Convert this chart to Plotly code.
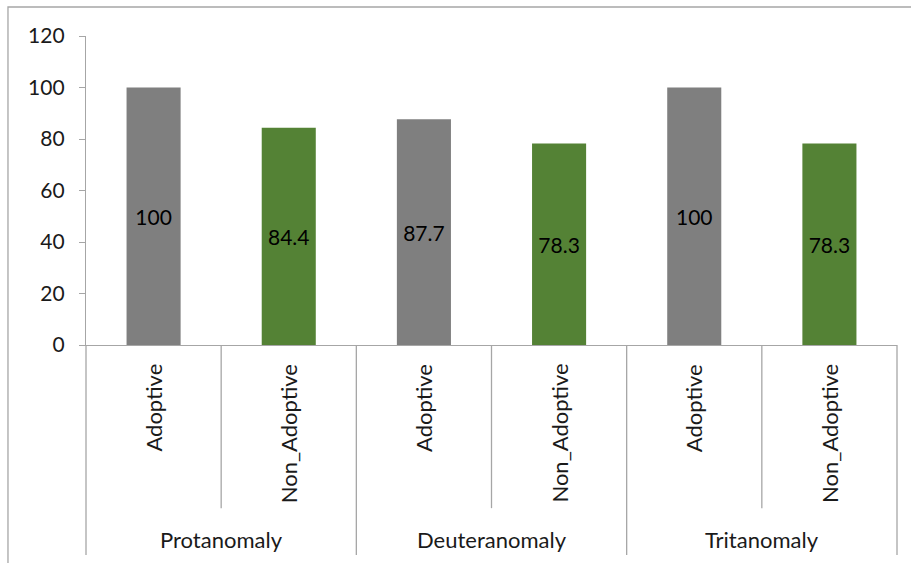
import plotly.graph_objects as go

groups = ["Protanomaly", "Deuteranomaly", "Tritanomaly"]
subcats = ["Adoptive", "Non_Adoptive"]
values = [100, 84.4, 87.7, 78.3, 100, 78.3]
value_labels = ["100", "84.4", "87.7", "78.3", "100", "78.3"]
y_ticks = [0, 20, 40, 60, 80, 100, 120]
sub_colors = {"Adoptive": "#7f7f7f", "Non_Adoptive": "#548235"}

FONT = "Lato, 'Open Sans', sans-serif"
AXIS_COLOR = "#a6a6a6"
TEXT_COLOR = "#1a1a1a"
FS = 22

n = len(groups) * len(subcats)
xs = list(range(n))
sub_of = [subcats[i % len(subcats)] for i in xs]
grp_of = [groups[i // len(subcats)] for i in xs]

fig = go.Figure()
fig.add_trace(go.Bar(
    x=xs, y=values,
    marker=dict(color=[sub_colors[s] for s in sub_of], line=dict(width=0)),
    width=0.4,
    text=value_labels, textposition="inside", insidetextanchor="middle",
    textangle=0,
    textfont=dict(family=FONT, size=FS - 1, color="#000000"),
    hoverinfo="skip",
))

shapes = []
# divider lines under the category axis
for k in range(n + 1):
    is_group = (k % len(subcats) == 0)
    shapes.append(dict(
        type="line", xref="paper", yref="paper",
        x0=k / n, x1=k / n, y0=0, y1=-0.68 if is_group else -0.528,
        line=dict(color=AXIS_COLOR, width=1.3),
    ))
# outer chart border (cropped at right/bottom)
shapes.append(dict(
    type="rect", xref="paper", yref="paper",
    x0=-0.0962, x1=1.5, y0=-2, y1=1.0939,
    line=dict(color="#a6a6a6", width=1.3), fillcolor="rgba(0,0,0,0)",
))

annotations = []
for i in xs:
    annotations.append(dict(
        x=i, xref="x", y=-0.055, yref="paper",
        text=sub_of[i], textangle=-90, showarrow=False,
        xanchor="center", yanchor="top",
        font=dict(family=FONT, size=FS, color=TEXT_COLOR),
    ))
for g, name in enumerate(groups):
    annotations.append(dict(
        x=g * len(subcats) + (len(subcats) - 1) / 2, xref="x",
        y=-0.631, yref="paper",
        text=name, showarrow=False, xanchor="center", yanchor="middle",
        font=dict(family=FONT, size=FS, color=TEXT_COLOR),
    ))

fig.update_layout(
    width=911, height=563,
    margin=dict(l=86, r=14, t=36, b=218, autoexpand=False),
    paper_bgcolor="white", plot_bgcolor="white",
    showlegend=False,
    shapes=shapes, annotations=annotations,
    xaxis=dict(
        range=[-0.5, n - 0.5], showticklabels=False, ticks="",
        showgrid=False, zeroline=False, showline=True,
        linecolor=AXIS_COLOR, linewidth=1.3, fixedrange=True,
    ),
    yaxis=dict(
        range=[0, 120], tickvals=y_ticks, ticktext=[str(v) for v in y_ticks],
        showgrid=False, zeroline=False, showline=True,
        linecolor=AXIS_COLOR, linewidth=1.3,
        ticks="outside", ticklen=6, tickcolor=AXIS_COLOR, tickwidth=1.3,
        ticklabelstandoff=10,
        tickfont=dict(family=FONT, size=FS - 1, color=TEXT_COLOR),
        automargin=False, fixedrange=True,
    ),
)

fig.write_html("out.html")
